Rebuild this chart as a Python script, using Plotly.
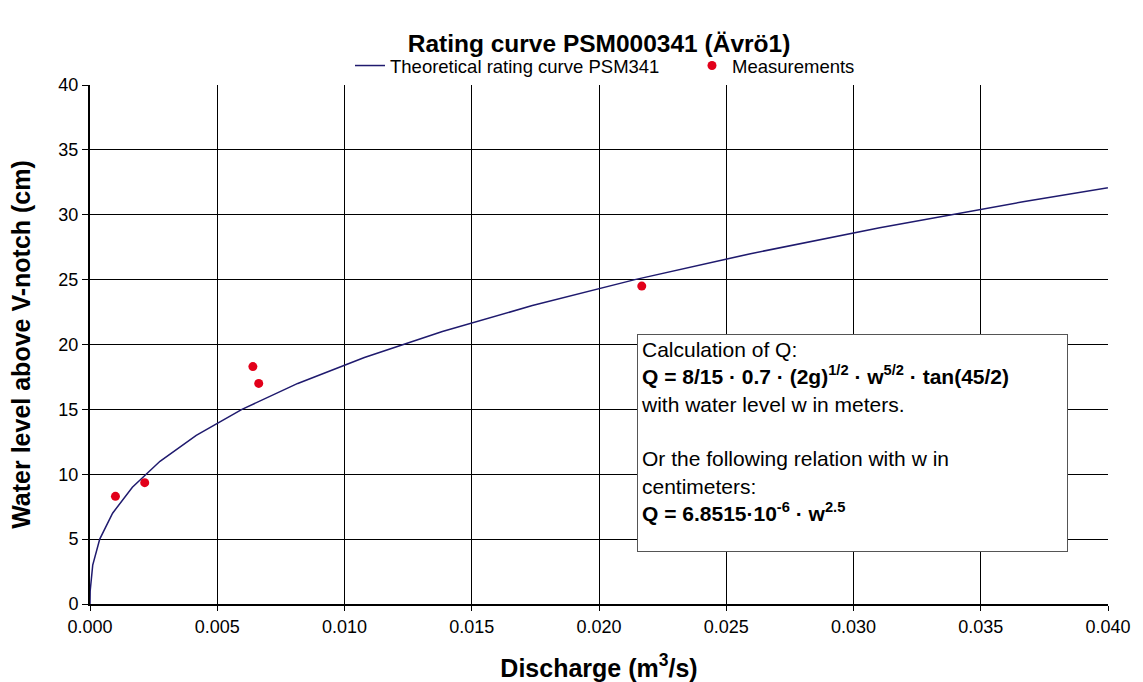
import plotly.graph_objects as go

# Theoretical rating curve points (water level cm, discharge m3/s)
curve_w = [0, 1, 3, 5, 7, 9, 11, 13, 15, 17, 19, 21, 23, 25, 27, 29, 31, 33]
curve_q = [0.0, 0.0000069, 0.0001068, 0.000383, 0.000888, 0.001665, 0.002750,
           0.004175, 0.005970, 0.008164, 0.010781, 0.013846, 0.017382, 0.021411,
           0.025953, 0.031030, 0.036661, 0.042862]

# Measurements
meas_q = [0.00100, 0.00215, 0.00640, 0.00663, 0.02168]
meas_w = [8.3, 9.35, 18.3, 17.0, 24.5]

x_ticks = [0.0, 0.005, 0.010, 0.015, 0.020, 0.025, 0.030, 0.035, 0.040]
y_ticks = [0, 5, 10, 15, 20, 25, 30, 35, 40]

FONT = "Liberation Sans, Arial, sans-serif"

fig = go.Figure()
fig.add_trace(go.Scatter(x=curve_q, y=curve_w, mode="lines",
                         name="Theoretical rating curve PSM341",
                         line=dict(color="#1f1a6e", width=1.5)))
fig.add_trace(go.Scatter(x=meas_q, y=meas_w, mode="markers",
                         name="Measurements",
                         marker=dict(color="#e2001a", size=9)))

fig.update_layout(
    width=1143, height=682,
    margin=dict(l=90, r=35, t=85, b=78),
    paper_bgcolor="white", plot_bgcolor="white",
    font=dict(family=FONT, size=18, color="black"),
    title=dict(text="<b>Rating curve PSM000341 (Ävrö1)</b>", x=0.5, xanchor="center",
               xref="paper",
               y=1 - 43 / 682, yanchor="middle", font=dict(size=24.5)),
    legend=dict(orientation="h", x=(350 - 90) / 1018, xanchor="left",
                y=1.0, yanchor="bottom",
                font=dict(size=18.5), bgcolor="rgba(0,0,0,0)", itemwidth=30,
                entrywidth=297, entrywidthmode="pixels", tracegroupgap=0),
    showlegend=True,
)
fig.update_xaxes(range=[0, 0.040], tickvals=x_ticks,
                 ticktext=[f"{v:.3f}" for v in x_ticks],
                 showgrid=True, gridcolor="black", gridwidth=1,
                 showline=True, linecolor="black", linewidth=2, mirror=False,
                 ticks="outside", ticklen=5, tickcolor="black",
                 zeroline=False, tickfont=dict(size=18), automargin=False,
                 title=dict(text="<b>Discharge (m<sup>3</sup>/s)</b>", font=dict(size=25),
                            standoff=26))
fig.update_yaxes(range=[0, 40], tickvals=y_ticks,
                 showgrid=True, gridcolor="black", gridwidth=1,
                 showline=True, linecolor="black", linewidth=2,
                 ticks="outside", ticklen=6, tickcolor="black",
                 zeroline=False, tickfont=dict(size=18), automargin=False,
                 title=dict(text="<b>Water level above V-notch (cm)</b>", font=dict(size=25),
                            standoff=21))

box_text = ("Calculation of Q:<br>"
            "<b>Q = 8/15 · 0.7 · (2g)<sup>1/2</sup> · w<sup>5/2</sup> · tan(45/2)</b><br>"
            "with water level w in meters.<br><br>"
            "Or the following relation with w in<br>centimeters:<br>"
            "<b>Q = 6.8515·10<sup>-6</sup> · w<sup>2.5</sup></b>")
fig.add_annotation(text=box_text, xref="paper", yref="paper",
                   x=(637 - 90) / 1018, y=(604 - 334) / 519,
                   xanchor="left", yanchor="top", align="left", valign="top",
                   showarrow=False,
                   font=dict(size=21, family=FONT, color="black"),
                   bgcolor="white", bordercolor="#555555", borderwidth=1,
                   borderpad=3, width=423, height=210)

fig.write_html("out.html")
